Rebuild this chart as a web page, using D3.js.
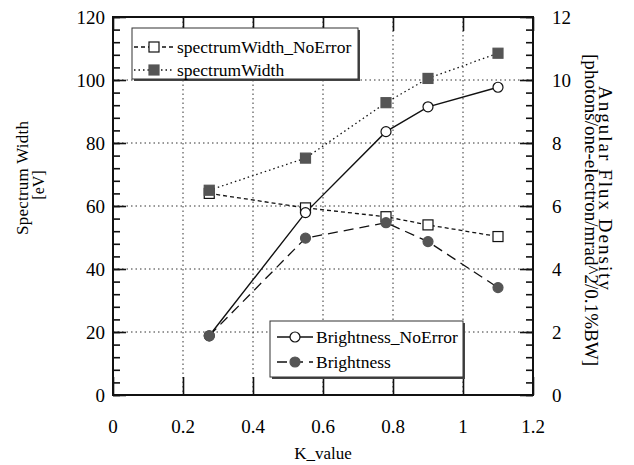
<!DOCTYPE html>
<html>
<head>
<meta charset="utf-8">
<script src="https://cdn.jsdelivr.net/npm/d3@7"></script>
<style>
  body { margin: 0; background: #fff; }
</style>
</head>
<body>
<div id="grafica"></div>
<script>
// data
var kValue = [0.275, 0.55, 0.78, 0.9, 1.1];
var widthNoError = [64, 59.4, 56.6, 54.0, 50.3];
var widthErr = [65, 75.2, 92.8, 100.5, 108.5];
var brightNoError = [1.88, 5.79, 8.36, 9.15, 9.77];
var brightErr = [1.88, 4.98, 5.47, 4.87, 3.41];

var xTicks = [0, 0.2, 0.4, 0.6, 0.8, 1, 1.2];
var leftTicks = [0, 20, 40, 60, 80, 100, 120];
var rightTicks = [0, 2, 4, 6, 8, 10, 12];

var serif = '"Liberation Serif", "DejaVu Serif", serif';

// set the dimensions and margins of the graph
var margin = {top: 17, right: 101, bottom: 70, left: 113},
    width = 634 - margin.left - margin.right,
    height = 465 - margin.top - margin.bottom;

var svg = d3.select("#grafica")
  .append("svg")
  .attr("width", 634)
  .attr("height", 465)
  .append("g")
  .attr("transform", `translate(${margin.left},${margin.top})`);

const x = d3.scaleLinear().domain([0, 1.2]).range([0, width]);
const yL = d3.scaleLinear().domain([0, 120]).range([height, 0]);
const yR = d3.scaleLinear().domain([0, 12]).range([height, 0]);

// grid lines (dotted)
svg.append("g")
  .selectAll("line")
  .data(xTicks.slice(1, -1))
  .join("line")
  .attr("x1", d => x(d)).attr("x2", d => x(d))
  .attr("y1", 0).attr("y2", height)
  .attr("stroke", "#333").attr("stroke-width", 1)
  .attr("stroke-dasharray", "1.5,3");
svg.append("g")
  .selectAll("line")
  .data(leftTicks.slice(1, -1))
  .join("line")
  .attr("x1", 0).attr("x2", width)
  .attr("y1", d => yL(d)).attr("y2", d => yL(d))
  .attr("stroke", "#333").attr("stroke-width", 1)
  .attr("stroke-dasharray", "1.5,3");

// axes, ticks pointing inward
function noDomain(g) { g.select(".domain").remove(); g.selectAll("text").remove(); }

svg.append("g")
  .attr("transform", `translate(0,${height})`)
  .call(d3.axisBottom(x).tickValues(xTicks).tickSizeInner(-18).tickSizeOuter(0))
  .call(noDomain);
svg.append("g")
  .call(d3.axisTop(x).tickValues(xTicks).tickSizeInner(-14).tickSizeOuter(0))
  .call(noDomain);
svg.append("g")
  .call(d3.axisLeft(yL).tickValues(d3.range(0, 121, 4)).tickSizeInner(-7).tickSizeOuter(0))
  .call(noDomain);
svg.append("g")
  .call(d3.axisLeft(yL).tickValues(leftTicks).tickSizeInner(-13).tickSizeOuter(0))
  .call(noDomain);
svg.append("g")
  .attr("transform", `translate(${width},0)`)
  .call(d3.axisRight(yR).tickValues(d3.range(0, 12.01, 0.4)).tickSizeInner(-7).tickSizeOuter(0))
  .call(noDomain);
svg.append("g")
  .attr("transform", `translate(${width},0)`)
  .call(d3.axisRight(yR).tickValues(rightTicks).tickSizeInner(-13).tickSizeOuter(0))
  .call(noDomain);
svg.selectAll(".tick line").attr("stroke", "#111").attr("stroke-width", 1.6);

// tick labels
svg.append("g").selectAll("text")
  .data(xTicks).join("text")
  .attr("x", d => x(d)).attr("y", height + 38)
  .attr("text-anchor", "middle")
  .style("font-family", serif).style("font-size", "19px")
  .text(d => d3.format("")(d));
svg.append("g").selectAll("text")
  .data(leftTicks).join("text")
  .attr("x", -8).attr("y", d => yL(d)).attr("dy", "0.35em")
  .attr("text-anchor", "end")
  .style("font-family", serif).style("font-size", "19px")
  .text(d => d);
svg.append("g").selectAll("text")
  .data(rightTicks).join("text")
  .attr("x", width + 19).attr("y", d => yR(d)).attr("dy", "0.35em")
  .attr("text-anchor", "start")
  .style("font-family", serif).style("font-size", "19px")
  .text(d => d);

// frame
svg.append("rect")
  .attr("width", width).attr("height", height)
  .attr("fill", "none").attr("stroke", "#111").attr("stroke-width", 2);

// axis titles
svg.append("text")
  .attr("x", x(0.6)).attr("y", height + 64)
  .attr("text-anchor", "middle")
  .style("font-family", serif).style("font-size", "17px")
  .text("K_value");

svg.append("text")
  .attr("transform", `translate(${28 - margin.left},${178 - margin.top}) rotate(-90)`)
  .attr("text-anchor", "middle")
  .attr("textLength", 114)
  .style("font-family", serif).style("font-size", "17px")
  .text("Spectrum Width");
svg.append("text")
  .attr("transform", `translate(${44 - margin.left},${185 - margin.top}) rotate(-90)`)
  .attr("text-anchor", "middle")
  .style("font-family", serif).style("font-size", "16px")
  .text("[eV]");

svg.append("text")
  .attr("transform", `translate(${599 - margin.left},${188 - margin.top}) rotate(90)`)
  .attr("text-anchor", "middle")
  .attr("textLength", 204)
  .style("font-family", serif).style("font-size", "19px")
  .text("Angular Flux Density");
svg.append("text")
  .attr("transform", `translate(${585 - margin.left},${210 - margin.top}) rotate(90)`)
  .attr("text-anchor", "middle")
  .attr("textLength", 312)
  .style("font-family", serif).style("font-size", "19px")
  .text("[photons/one-electron/mrad^2/0.1%BW]");

// series
var series = [
  {name: "spectrumWidth_NoError", vals: widthNoError, y: yL, dash: "4,3", shape: "square", fill: "#fff"},
  {name: "spectrumWidth", vals: widthErr, y: yL, dash: "1.5,3", shape: "square", fill: "#555"},
  {name: "Brightness_NoError", vals: brightNoError, y: yR, dash: null, shape: "circle", fill: "#fff"},
  {name: "Brightness", vals: brightErr, y: yR, dash: "10,6", shape: "circle", fill: "#555"}
];

function drawMarker(g, s, cx, cy) {
  if (s.shape == "square") {
    g.append("rect")
      .attr("x", cx - 5).attr("y", cy - 5)
      .attr("width", 10).attr("height", 10)
      .attr("fill", s.fill)
      .attr("stroke", s.fill == "#fff" ? "#111" : "#555")
      .attr("stroke-width", 1.2);
  } else {
    g.append("circle")
      .attr("cx", cx).attr("cy", cy).attr("r", 5)
      .attr("fill", s.fill)
      .attr("stroke", s.fill == "#fff" ? "#111" : "#555")
      .attr("stroke-width", 1.2);
  }
}

series.forEach(function(s) {
  var pts = kValue.map((k, i) => [k, s.vals[i]]);
  svg.append("path")
    .datum(pts)
    .attr("fill", "none")
    .attr("stroke", "#111")
    .attr("stroke-width", s.dash == null ? 1.4 : 1.3)
    .attr("stroke-dasharray", s.dash)
    .attr("d", d3.line()
      .x(d => x(d[0]))
      .y(d => s.y(d[1])));
});
series.forEach(function(s) {
  var g = svg.append("g");
  kValue.forEach((k, i) => drawMarker(g, s, x(k), s.y(s.vals[i])));
});

// legends
function legend(items, bx, by, bw, bh, sx1, sx2, tx, rows) {
  var g = svg.append("g").attr("transform", `translate(${bx - margin.left},${by - margin.top})`);
  g.append("rect")
    .attr("x", 2).attr("y", 2).attr("width", bw).attr("height", bh)
    .attr("fill", "#444");
  g.append("rect")
    .attr("width", bw).attr("height", bh)
    .attr("fill", "#fff").attr("stroke", "#333").attr("stroke-width", 1);
  items.forEach(function(s, i) {
    var ry = rows[i];
    g.append("line")
      .attr("x1", sx1).attr("x2", sx2).attr("y1", ry).attr("y2", ry)
      .attr("stroke", "#111").attr("stroke-width", 1.3)
      .attr("stroke-dasharray", s.dash);
    drawMarker(g, s, (sx1 + sx2) / 2, ry);
    g.append("text")
      .attr("x", tx).attr("y", ry).attr("dy", "0.35em")
      .style("font-family", serif).style("font-size", "17.5px")
      .text(s.name);
  });
}
legend(series.slice(0, 2), 132, 28, 226, 51, 2, 42, 45, [19, 42]);
legend(series.slice(2), 270, 321, 193, 56, 7, 43, 46, [16, 41]);
</script>
</body>
</html>
